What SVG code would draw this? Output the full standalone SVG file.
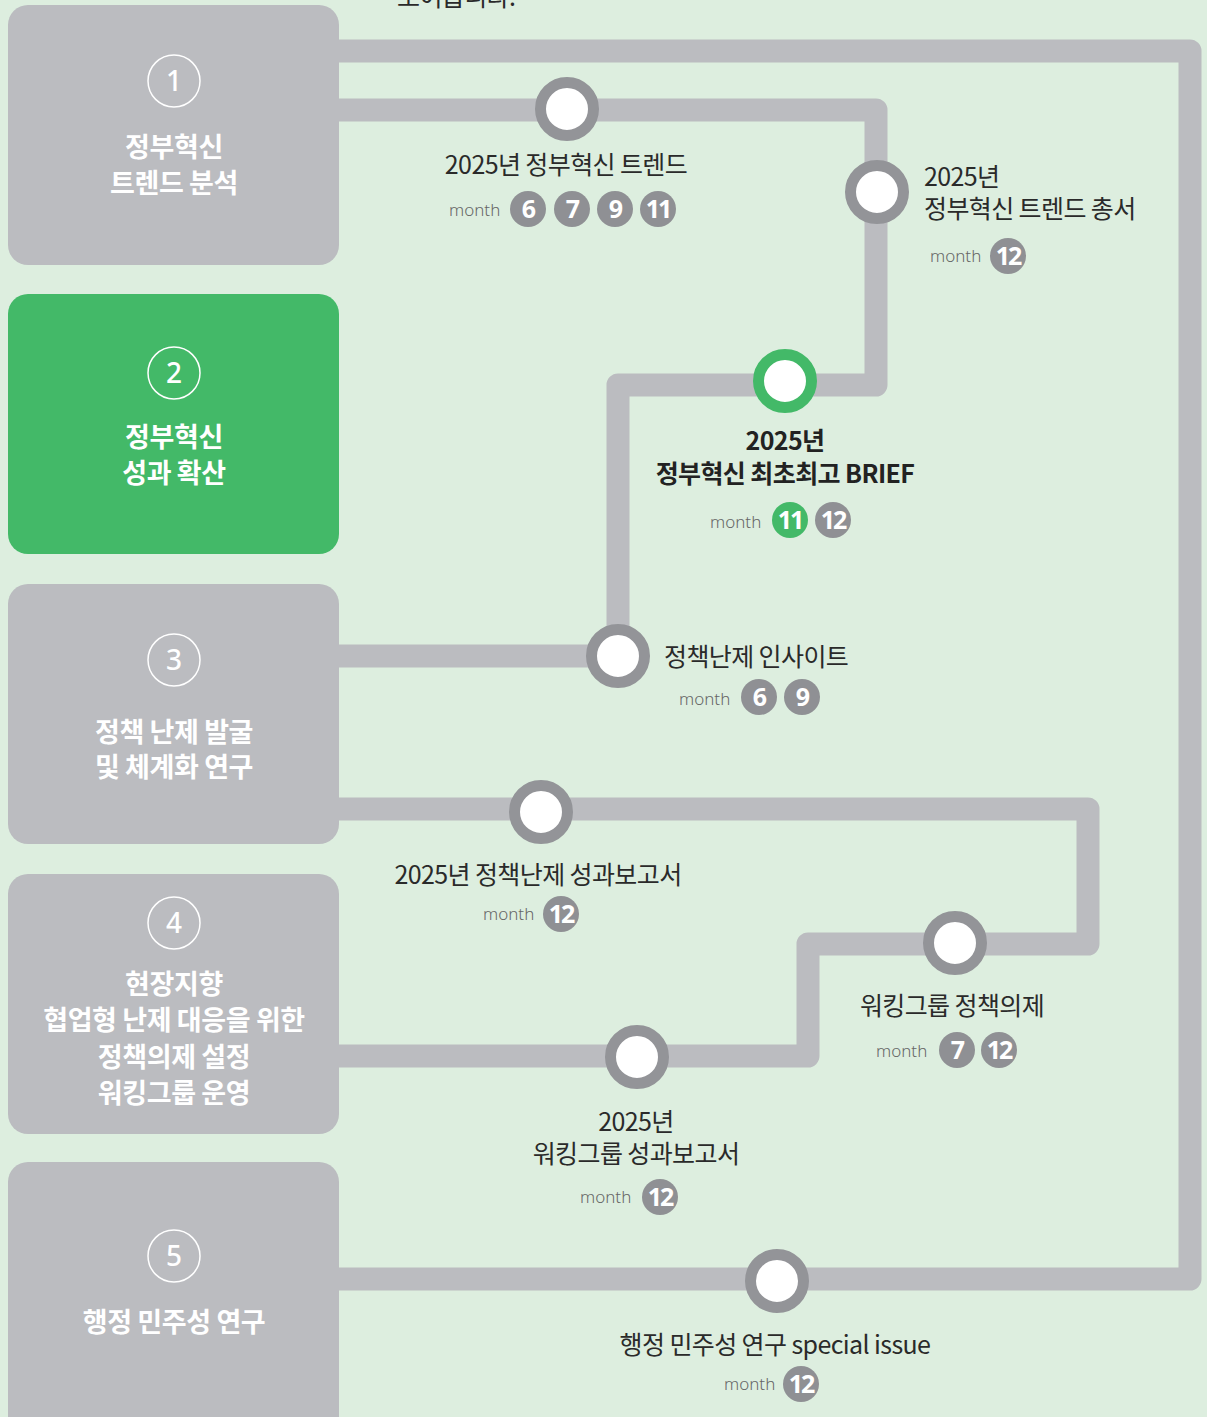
<svg xmlns="http://www.w3.org/2000/svg" width="1207" height="1417" viewBox="0 0 1207 1417">
<style>
.bg{fill:#DDEEDF}
.box{fill:#BBBCC0}
.boxg{fill:#43B968}
.ring{fill:none;stroke:#FFFFFF;stroke-width:1.5}
.cn{font-family:"Noto Sans","Noto Sans CJK KR",sans-serif;font-size:28px;font-weight:500;fill:#FFFFFF;text-anchor:middle}
.h{font-family:"Noto Sans CJK KR","Noto Sans",sans-serif;font-size:27px;font-weight:bold;fill:#FFFFFF;text-anchor:middle;letter-spacing:-0.4px}
.ln{fill:none;stroke:#BBBCC0;stroke-width:23;stroke-linejoin:round}
.st{fill:#FFFFFF;stroke:#939498;stroke-width:11}
.stg{fill:#FFFFFF;stroke:#43B968;stroke-width:11}
.t{font-family:"Noto Sans CJK KR","Noto Sans",sans-serif;font-size:25px;fill:#2A2A2A;letter-spacing:-0.6px}
.tb{font-family:"Noto Sans CJK KR","Noto Sans",sans-serif;font-size:25px;font-weight:bold;fill:#222222;letter-spacing:-0.6px}
.m{font-family:"Noto Sans","Liberation Sans",sans-serif;font-size:17px;font-weight:300;fill:#666666}
.bd{fill:#8F9094}
.bdg{fill:#43B968}
.bn{font-family:"Noto Sans","Liberation Sans",sans-serif;font-size:25px;font-weight:bold;fill:#FFFFFF;text-anchor:middle;letter-spacing:-2px}
</style>
<rect class="bg" x="0" y="0" width="1207" height="1417"/>
<text class="t" x="397" y="6">보여줍니다.</text>

<g id="connectors">
<path class="ln" d="M330 51 H1190 V1279 H330"/>
<path class="ln" d="M330 110 H876 V385 H618 V656"/>
<path class="ln" d="M330 656 H618"/>
<path class="ln" d="M330 809 H1088 V944 H808 V1056 H330"/>
</g>

<g id="box1">
<rect class="box" x="8" y="5" width="331" height="260" rx="20"/>
<circle class="ring" cx="174" cy="81" r="26"/>
<text class="cn" x="174" y="91">1</text>
<text class="h" x="174" y="157">정부혁신</text>
<text class="h" x="174" y="193">트렌드 분석</text>
</g>
<g id="box2">
<rect class="boxg" x="8" y="294" width="331" height="260" rx="20"/>
<circle class="ring" cx="174" cy="373" r="26"/>
<text class="cn" x="174" y="383">2</text>
<text class="h" x="174" y="447">정부혁신</text>
<text class="h" x="174" y="483">성과 확산</text>
</g>
<g id="box3">
<rect class="box" x="8" y="584" width="331" height="260" rx="20"/>
<circle class="ring" cx="174" cy="660" r="26"/>
<text class="cn" x="174" y="670">3</text>
<text class="h" x="174" y="742">정책 난제 발굴</text>
<text class="h" x="174" y="777">및 체계화 연구</text>
</g>
<g id="box4">
<rect class="box" x="8" y="874" width="331" height="260" rx="20"/>
<circle class="ring" cx="174" cy="923" r="26"/>
<text class="cn" x="174" y="933">4</text>
<text class="h" x="174" y="994">현장지향</text>
<text class="h" x="174" y="1030">협업형 난제 대응을 위한</text>
<text class="h" x="174" y="1067">정책의제 설정</text>
<text class="h" x="174" y="1103">워킹그룹 운영</text>
</g>
<g id="box5">
<rect class="box" x="8" y="1162" width="331" height="280" rx="20"/>
<circle class="ring" cx="174" cy="1256" r="26"/>
<text class="cn" x="174" y="1266">5</text>
<text class="h" x="174" y="1332">행정 민주성 연구</text>
</g>

<g id="s1">
<circle class="st" cx="567" cy="109" r="26.5"/>
<text class="t" x="566" y="174" text-anchor="middle">2025년 정부혁신 트렌드</text>
<text class="m" x="449" y="216">month</text>
<circle class="bd" cx="528" cy="209" r="18"/><text class="bn" x="528" y="218">6</text>
<circle class="bd" cx="572" cy="209" r="18"/><text class="bn" x="572" y="218">7</text>
<circle class="bd" cx="615" cy="209" r="18"/><text class="bn" x="615" y="218">9</text>
<circle class="bd" cx="658" cy="209" r="18"/><text class="bn" x="658" y="218">11</text>
</g>
<g id="s2">
<circle class="st" cx="877" cy="192" r="26.5"/>
<text class="t" x="924" y="186">2025년</text>
<text class="t" x="924" y="218">정부혁신 트렌드 총서</text>
<text class="m" x="930" y="262">month</text>
<circle class="bd" cx="1008" cy="256" r="18"/><text class="bn" x="1008" y="265">12</text>
</g>
<g id="s3">
<circle class="stg" cx="785" cy="381" r="26.5"/>
<text class="tb" x="785" y="450" text-anchor="middle">2025년</text>
<text class="tb" x="785" y="483" text-anchor="middle">정부혁신 최초최고 BRIEF</text>
<text class="m" x="710" y="528">month</text>
<circle class="bdg" cx="790" cy="520" r="18"/><text class="bn" x="790" y="529">11</text>
<circle class="bd" cx="833" cy="520" r="18"/><text class="bn" x="833" y="529">12</text>
</g>
<g id="s4">
<circle class="st" cx="618" cy="656" r="26.5"/>
<text class="t" x="664" y="666">정책난제 인사이트</text>
<text class="m" x="679" y="705">month</text>
<circle class="bd" cx="759" cy="697" r="18"/><text class="bn" x="759" y="706">6</text>
<circle class="bd" cx="802" cy="697" r="18"/><text class="bn" x="802" y="706">9</text>
</g>
<g id="s5">
<circle class="st" cx="541" cy="812" r="26.5"/>
<text class="t" x="538" y="884" text-anchor="middle">2025년 정책난제 성과보고서</text>
<text class="m" x="483" y="920">month</text>
<circle class="bd" cx="561" cy="914" r="18"/><text class="bn" x="561" y="923">12</text>
</g>
<g id="s6">
<circle class="st" cx="955" cy="943" r="26.5"/>
<text class="t" x="952" y="1015" text-anchor="middle">워킹그룹 정책의제</text>
<text class="m" x="876" y="1057">month</text>
<circle class="bd" cx="957" cy="1050" r="18"/><text class="bn" x="957" y="1059">7</text>
<circle class="bd" cx="999" cy="1050" r="18"/><text class="bn" x="999" y="1059">12</text>
</g>
<g id="s7">
<circle class="st" cx="637" cy="1057" r="26.5"/>
<text class="t" x="636" y="1131" text-anchor="middle">2025년</text>
<text class="t" x="636" y="1163" text-anchor="middle">워킹그룹 성과보고서</text>
<text class="m" x="580" y="1203">month</text>
<circle class="bd" cx="660" cy="1197" r="18"/><text class="bn" x="660" y="1206">12</text>
</g>
<g id="s8">
<circle class="st" cx="777" cy="1281" r="26.5"/>
<text class="t" x="775" y="1354" text-anchor="middle">행정 민주성 연구 special issue</text>
<text class="m" x="724" y="1390">month</text>
<circle class="bd" cx="801" cy="1384" r="18"/><text class="bn" x="801" y="1393">12</text>
</g>
</svg>
